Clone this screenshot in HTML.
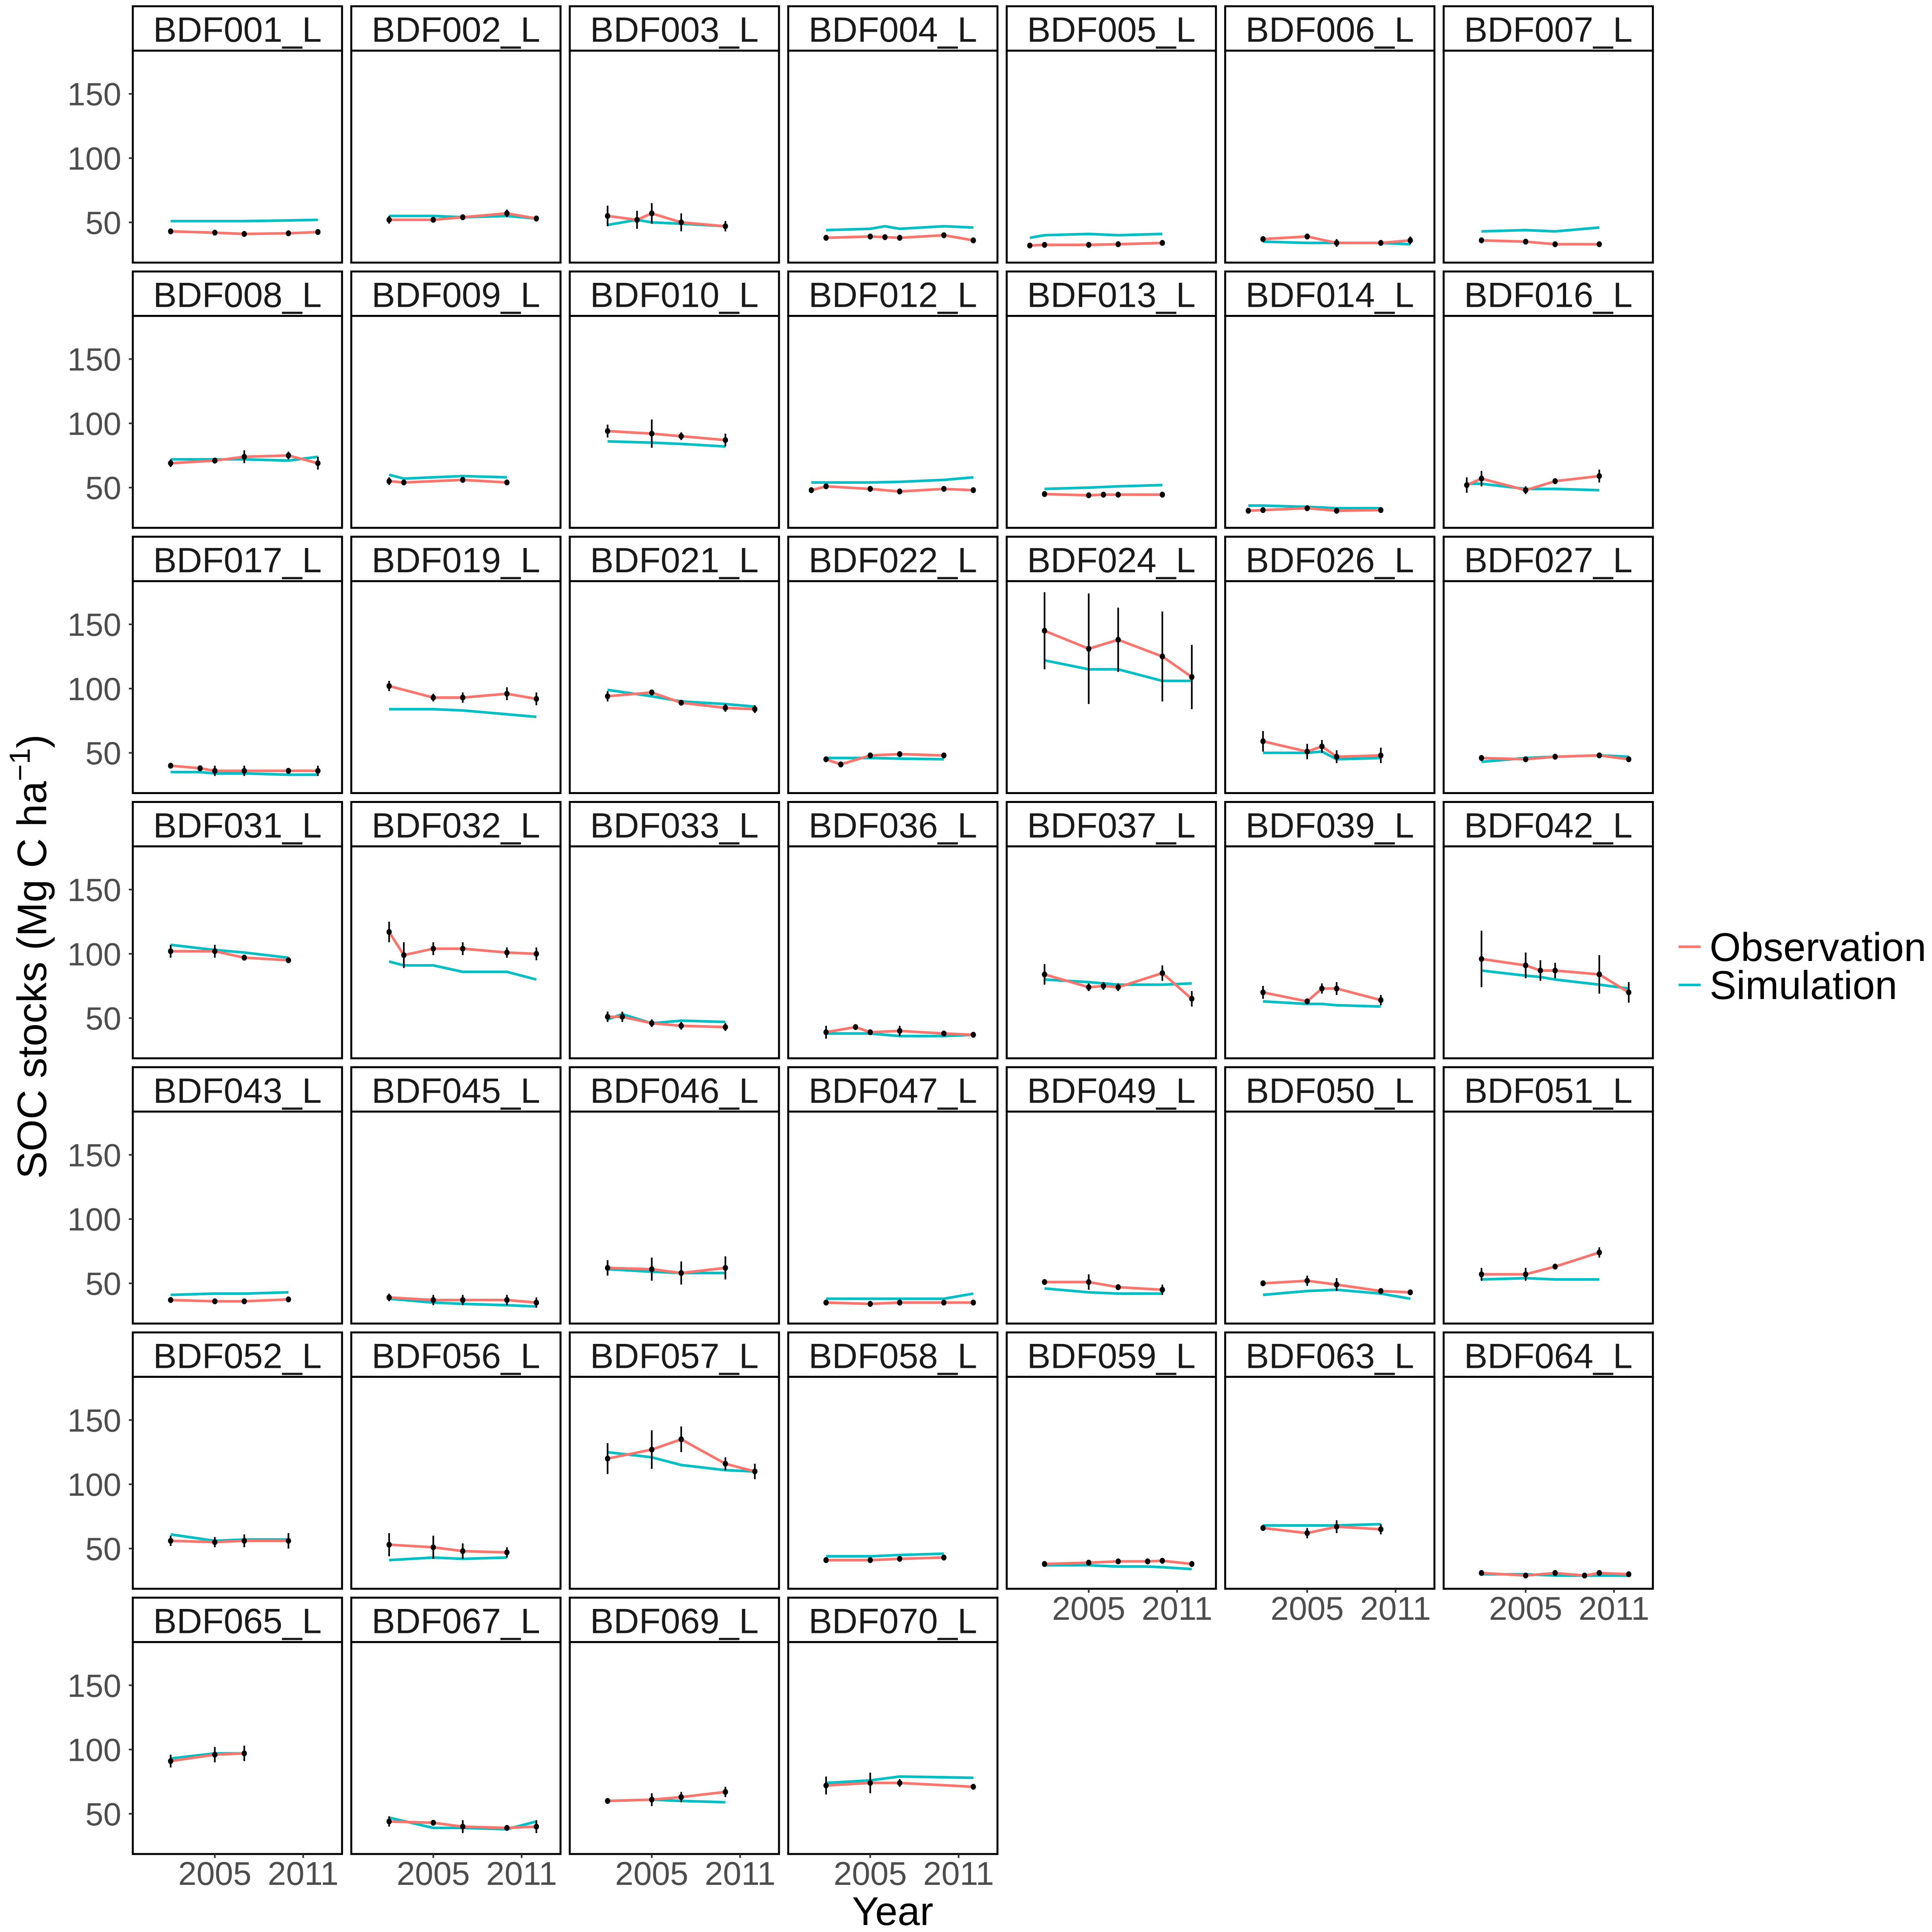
<!DOCTYPE html>
<html><head><meta charset="utf-8"><style>
html,body{margin:0;padding:0;background:#fff;width:100%;height:100%;overflow:hidden;}
svg{display:block;font-family:"Liberation Sans",Arial,sans-serif;width:100vw;height:100vh;}
</style></head>
<body>
<svg id="chart" xmlns="http://www.w3.org/2000/svg" viewBox="0 0 5863 5871" preserveAspectRatio="none">
<rect x="0" y="0" width="5863" height="5871" fill="#fff"/>
<text transform="translate(140,2907) rotate(-90)" text-anchor="middle" font-size="125" fill="#000">SOC stocks (Mg C ha<tspan dy="-50" font-size="88">−1</tspan><tspan dy="50">)</tspan></text>
<text x="2709" y="5850" text-anchor="middle" font-size="122" fill="#000">Year</text>
<g>
<line x1="5094" y1="2877" x2="5161" y2="2877" stroke="#F8766D" stroke-width="8"/>
<text x="5188" y="2920" font-size="122" fill="#000">Observation</text>
<line x1="5094" y1="2993" x2="5161" y2="2993" stroke="#00BFC4" stroke-width="8"/>
<text x="5188" y="3036" font-size="122" fill="#000">Simulation</text>
</g>
</svg>
<script>
var siteNames = ["BDF001_L","BDF002_L","BDF003_L","BDF004_L","BDF005_L","BDF006_L","BDF007_L",
"BDF008_L","BDF009_L","BDF010_L","BDF012_L","BDF013_L","BDF014_L","BDF016_L",
"BDF017_L","BDF019_L","BDF021_L","BDF022_L","BDF024_L","BDF026_L","BDF027_L",
"BDF031_L","BDF032_L","BDF033_L","BDF036_L","BDF037_L","BDF039_L","BDF042_L",
"BDF043_L","BDF045_L","BDF046_L","BDF047_L","BDF049_L","BDF050_L","BDF051_L",
"BDF052_L","BDF056_L","BDF057_L","BDF058_L","BDF059_L","BDF063_L","BDF064_L",
"BDF065_L","BDF067_L","BDF069_L","BDF070_L"];
var obsYears = [[2002,2005,2007,2010,2012],[2002,2005,2007,2010,2012],[2002,2004,2005,2007,2010],[2002,2005,2006,2007,2010,2012],[2001,2002,2005,2007,2010],[2002,2005,2007,2010,2012],[2002,2005,2007,2010],
[2002,2005,2007,2010,2012],[2002,2003,2007,2010],[2002,2005,2007,2010],[2001,2002,2005,2007,2010,2012],[2002,2005,2006,2007,2010],[2001,2002,2005,2007,2010],[2001,2002,2005,2007,2010],
[2002,2004,2005,2007,2010,2012],[2002,2005,2007,2010,2012],[2002,2005,2007,2010,2012],[2002,2003,2005,2007,2010],[2002,2005,2007,2010,2012],[2002,2005,2006,2007,2010],[2002,2005,2007,2010,2012],
[2002,2005,2007,2010],[2002,2003,2005,2007,2010,2012],[2002,2003,2005,2007,2010],[2002,2004,2005,2007,2010,2012],[2002,2005,2006,2007,2010,2012],[2002,2005,2006,2007,2010],[2002,2005,2006,2007,2010,2012],
[2002,2005,2007,2010],[2002,2005,2007,2010,2012],[2002,2005,2007,2010],[2002,2005,2007,2010,2012],[2002,2005,2007,2010],[2002,2005,2007,2010,2012],[2002,2005,2007,2010],
[2002,2005,2007,2010],[2002,2005,2007,2010],[2002,2005,2007,2010,2012],[2002,2005,2007,2010],[2002,2005,2007,2009,2010,2012],[2002,2005,2007,2010],[2002,2005,2007,2009,2010,2012],
[2002,2005,2007],[2002,2005,2007,2010,2012],[2002,2005,2007,2010],[2002,2005,2007,2012]];
var obsValues = [[43,42,41,41.5,42.5],[52,52,54,57,53],[55,52,57,50,47],[38,39,38.5,38,40,36],[32,32.5,32.5,33,34],[37,39,34,34,36],[36,35,33,33],
[69,71,74,75,69],[55,54,56,54],[94,92,90,87],[48,51,49,47,49,48],[45,44,44.5,44.5,44.5],[32,32.5,34,32,32.5],[52,57,48,55,59],
[40,38,36,36,36,36],[102,93,93,96,92],[94,97,89,85,84],[45,41,48,49,48],[145,131,138,125,109],[59,51,55,47,48],[46,45,47,48,45],
[102,102,97,95],[117,99,104,104,101,100],[51,51,46,44,43],[39,43,39,40,38,37],[84,74,75,74,85,65],[70,63,73,73,64],[96,91,87,87,84,70],
[37,36,36,37.5],[39,37,37,37,35],[62,61,58,62],[35,34,35,35,35],[51,51,47,45],[50,52,49,44,43],[57,57,63,74],
[56,55,56,56],[53,51,48,47],[120,127,135,116,110],[41,41,42,43],[38,39,40,40,40.5,38],[66,62,67,65],[31,29,31,29,31,30],
[91,96,97],[44,43,40,39,40],[60,61,63,67],[72,74,74,71]];
var obsErrors = [[2,2,2,2,2],[3,2,2,3,2],[8,7,8,7,4],[2,2,2,2,2,2],[2,2,2,2,2],[2,2,3,2,3],[2,2,2,2],
[3,2,5,3,5],[3,2,2,2],[5,11,3,5],[2,2,2,2,2,2],[2,2,2,2,2],[2,2,2,2,2],[6,6,3,2,5],
[2,2,4,4,2,4],[4,3,4,5,5],[4,2,2,3,3],[2,2,2,2,2],[30,43,25,35,25],[8,6,5,5,6],[2,2,2,2,2],
[5,5,2,2],[8,10,5,5,4,5],[4,4,3,3,3],[5,2,2,4,2,2],[8,3,3,3,6,6],[5,2,4,5,4],[22,10,8,6,15,8],
[2,2,2,2],[3,4,4,4,4],[6,9,9,9],[2,2,2,2,2],[2,6,2,4],[2,4,5,2,2],[5,5,2,4],
[4,4,5,6],[9,9,6,4],[12,15,10,5,6],[2,2,2,2],[2,2,2,2,2,2],[2,4,5,4],[2,2,2,2,2,2],
[5,6,6],[4,2,5,2,5],[2,5,4,4],[7,8,3,2]];
var simYears = obsYears;
var simValues = [[51,51,51,51.5,52],[55,55,54,55,53],[48,52,50,49,47],[44,45,47,45,47,46],[38,40,41,40,41],[35,34,34,34,33],[43,44,43,46],
[72,72,72,71,74],[60,57,59,58],[86,85,84,82],[54,54,54,54.5,56,58],[49,50,50.5,51,52],[36,36,35,34,34],[53,53,49,49,48],
[35,35,34,34,33,33],[84,84,83,80,78],[99,94,90,88,86],[46,46,46,45.5,45],[122,115,115,106,106],[50,50,51,45,46],[43,46,47,48,47],
[107,103,101,97],[94,91,91,86,86,80],[49,53,46,48,47],[38,38,38,36,36,37],[80,78,77,76,76,77],[63,61,61,60,59],[87,83,82,80,76,73],
[41,42,42,43],[38,35,34,33,32],[61,59,58,58],[38,38,38,38,42],[46,43,42,42],[41,44,45,42,38],[53,54,53,53],
[61,56,57,57],[41,43,42,43],[125,121,115,111,110],[44,44,45,46],[37,37,36,36,35.5,34],[68,68,68,69],[30,30,29,29,29,29],
[93,97,97],[47,39,39,38,44],[60,61,60,59],[74,76,79,78]];
var yTicks = [50,100,150];
var xTicks = [2005,2011];

var NS = "http://www.w3.org/2000/svg";
var svg = document.getElementById('chart');
var COL0 = 403, COLSTEP = 663, PW = 635;
var ROW0 = 19, ROWSTEP = 806, STRIPH = 135, PH = 644;
var YMIN = 18.7, YMAX = 183.6, XMIN = 1999.43, XMAX = 2013.64;
function mk(tag, attrs, parent){ var e = document.createElementNS(NS, tag); for (var k in attrs) e.setAttribute(k, attrs[k]); (parent||svg).appendChild(e); return e; }

siteNames.forEach(function(name, i){
  var r = Math.floor(i/7), c = i%7;
  var left = COL0 + c*COLSTEP, stripTop = ROW0 + r*ROWSTEP, top = stripTop + STRIPH, bottom = top + PH;
  function sx(yr){ return left + (yr - XMIN)/(XMAX - XMIN)*PW; }
  function sy(v){ return bottom - (v - YMIN)/(YMAX - YMIN)*PH; }
  var g = mk('g', {});
  
  
  var strip = mk('rect', {x:left, y:stripTop, width:PW, height:STRIPH, fill:'#fff', stroke:'#000', 'stroke-width':6}, g);
  
  
  var st = mk('text', {x:left+PW/2, y:stripTop+108, 'text-anchor':'middle', 'font-size':107, fill:'#1a1a1a'}, g);
  st.textContent = name;
  
  
  var box = mk('rect', {x:left, y:top, width:PW, height:PH, fill:'#fff', stroke:'#000', 'stroke-width':6}, g);
  
  
  var sp = simYears[i].map(function(yr,j){ return sx(yr).toFixed(1)+','+sy(simValues[i][j]).toFixed(1); }).join(' ');
  var sl = mk('polyline', {points:sp, fill:'none', stroke:'#00BFC4', 'stroke-width':8, 'stroke-linejoin':'round'}, g);
  
  
  var op = obsYears[i].map(function(yr,j){ return sx(yr).toFixed(1)+','+sy(obsValues[i][j]).toFixed(1); }).join(' ');
  var ol = mk('polyline', {points:op, fill:'none', stroke:'#F8766D', 'stroke-width':8, 'stroke-linejoin':'round'}, g);
  
  
  obsYears[i].forEach(function(yr,j){
    var v = obsValues[i][j], e = obsErrors[i][j];
    var eb = mk('line', {x1:sx(yr), x2:sx(yr), y1:sy(v+e), y2:sy(v-e), stroke:'#000', 'stroke-width':5}, g);
    
    
    var pt = mk('ellipse', {cx:sx(yr), cy:sy(v), rx:8, ry:9, fill:'#000'}, g);
    
    
  });
  if (c === 0) {
    yTicks.forEach(function(t){
      var tk = mk('line', {x1:left-12, x2:left, y1:sy(t), y2:sy(t), stroke:'#333', 'stroke-width':5}, g);
      
      
      var tl = mk('text', {x:left-35, y:sy(t)+35, 'text-anchor':'end', 'font-size':98, fill:'#4d4d4d'}, g);
      tl.textContent = t;
      
      
    });
  }
  var hasX = (r === 6) || (r === 5 && c >= 4);
  if (hasX) {
    xTicks.forEach(function(t){
      var tk = mk('line', {x1:sx(t), x2:sx(t), y1:bottom, y2:bottom+12, stroke:'#333', 'stroke-width':5}, g);
      
      
      var tl = mk('text', {x:sx(t), y:bottom+94, 'text-anchor':'middle', 'font-size':100, fill:'#4d4d4d'}, g);
      tl.textContent = t;
      
      
    });
  }
});
</script>
</body></html>
